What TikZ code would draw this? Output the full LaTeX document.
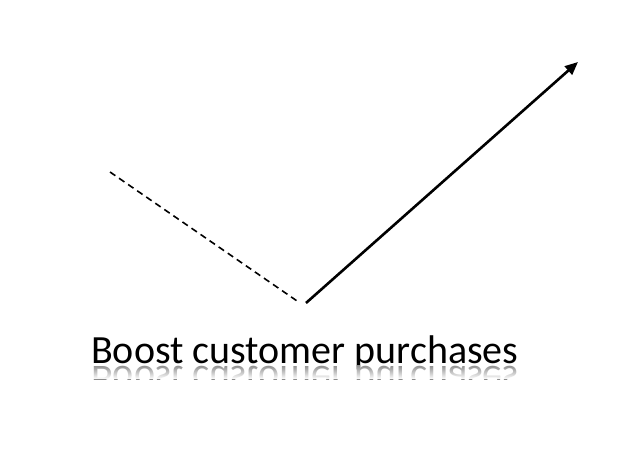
\documentclass[tikz,border=0pt]{standalone}
\usepackage{fontspec}
\setmainfont{Carlito}
\usetikzlibrary{arrows.meta,fadings}
\tikzset{
  dashline/.style={line width=1.6pt, dash pattern=on 6.5pt off 4.5pt},
  growarrow/.style={line width=2.6pt, -{Triangle[length=13pt,width=11pt]}},
  label/.style={font=\fontsize{40}{44}\selectfont, inner sep=0pt, anchor=base west}
}
\begin{document}
\begin{tikzpicture}[x=1pt,y=-1pt]
\useasboundingbox (0,0) rectangle (621,462);
\fill[white] (0,0) rectangle (621,462);
\coordinate (start) at (110,172);
\coordinate (low) at (300,303);
\coordinate (rise) at (306,303);
\coordinate (peak) at (578,62);
\draw[dashline] (start) -- (low);
\draw[growarrow] (rise) -- (peak);
\node[label] (title) at (91,363) {Boost customer purchases};
\begin{scope}
\clip (80,365) rectangle (540,379);
\node[label, yscale=-1, text=black!45] (mirror) at (91,366) {Boost customer purchases};
\fill[white, path fading=north] (80,365) rectangle (540,379);
\end{scope}
\end{tikzpicture}
\end{document}
